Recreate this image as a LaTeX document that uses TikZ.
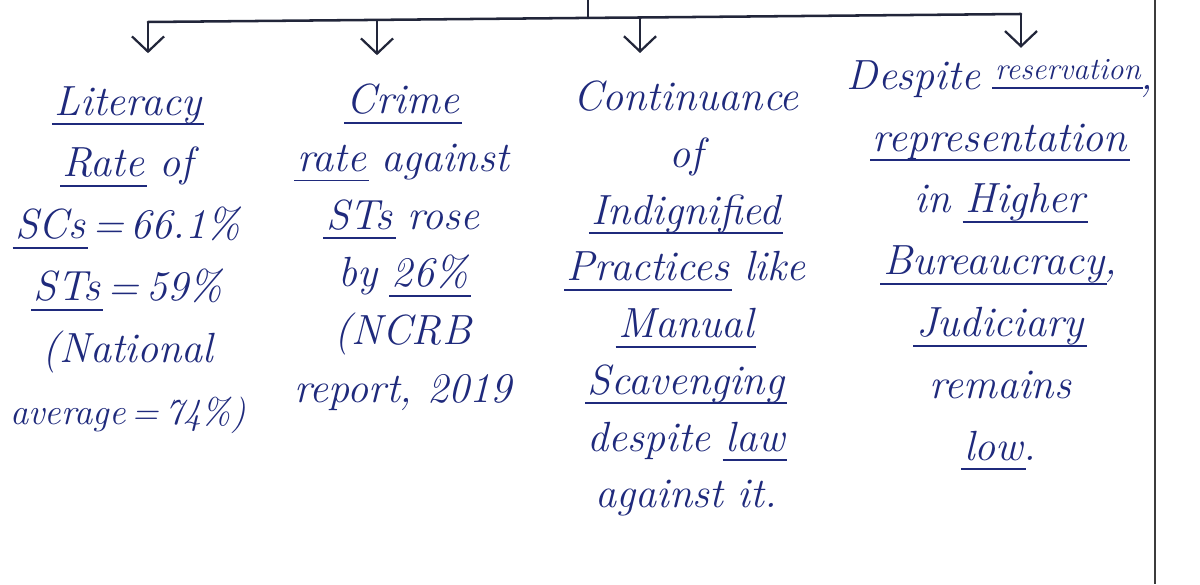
\documentclass[tikz,border=0pt]{standalone}
\usepackage{xcolor}
\usepackage{tikz}
\usetikzlibrary{arrows.meta}
\definecolor{ink}{HTML}{1F2A7C}
\definecolor{pn}{HTML}{22263A}
\definecolor{mg}{HTML}{3C3C3C}
\newcommand\ulw[1]{\setbox0\hbox{#1}\leavevmode\rlap{\kern-2pt\rule[-7pt]{\dimexpr\wd0+4pt\relax}{1.3pt}}\box0\relax}

\begin{document}
\begin{tikzpicture}[x=0.025cm,y=-0.025cm,
  col/.style={text=ink,align=center,inner sep=0pt,anchor=north,font=\fontsize{30}{#1}\selectfont\itshape},
  arr/.style={-{Straight Barb[length=3.8mm,width=8mm]},draw=pn,line width=1.6pt},
  bar/.style={draw=pn,line width=1.8pt,line cap=round}]
\useasboundingbox (0,0) rectangle (1200,584);
\node[col=44pt](n1) at (128,86){\ulw{Literacy}\\ \ulw{Rate} of\\ \ulw{SCs}\,=\,66.1\%\\ \ulw{STs}\,=\,59\%\\ (National\\ {\fontsize{26}{44}\selectfont average\,=\,74\%)}};
\node[col=41pt](n2) at (403,84){\ulw{Crime}\\ \ulw{rate} against\\ \ulw{STs} rose\\ by \ulw{26\%}\\ (NCRB\\ report, 2019};
\node[col=40.3pt](n3) at (686,81){Continuance\\ of\\ \ulw{Indignified}\\ \ulw{Practices} like\\ \ulw{Manual}\\ \ulw{Scavenging}\\ despite \ulw{law}\\ against it.};
\node[col=44pt](n4) at (1000,59){Despite {\fontsize{22}{22}\selectfont\raisebox{7pt}{\ulw{reservation}}},\\ \ulw{representation}\\ in \ulw{Higher}\\ \ulw{Bureaucracy},\\ \ulw{Judiciary}\\ remains\\ \ulw{low}.};
\coordinate (r) at (588,0);
\coordinate (j) at (588,17.9);
\coordinate (b1) at (148,22);
\coordinate (b2) at (377,19.9);
\coordinate (b3) at (640,17.5);
\coordinate (b4) at (1021,14);
\draw[bar](r)--(j);
\draw[bar](b1)--(b2)--(j)--(b3)--(b4);
\foreach \i/\s in {1/8.2,2/7.2,3/7,4/2.8}
  \draw[arr,shorten >=\s mm](b\i)--(b\i |- n\i.north);
\draw[mg,line width=2pt](1155,0)--(1155,584);
\end{tikzpicture}
\end{document}
